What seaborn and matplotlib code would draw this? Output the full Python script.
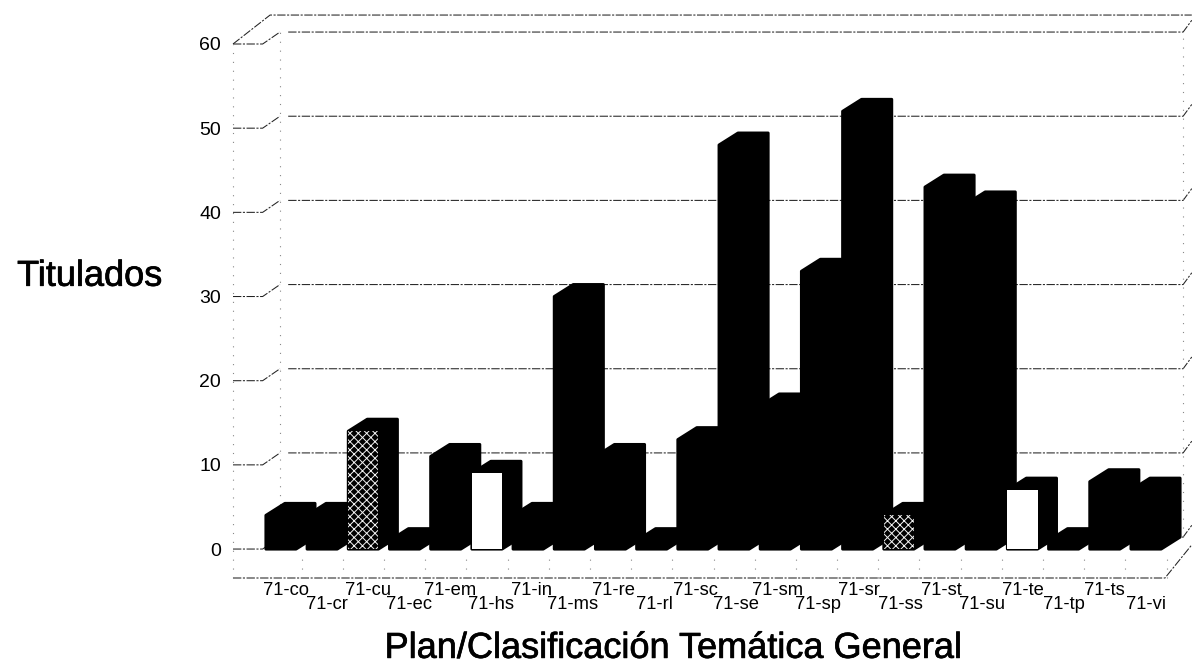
import numpy as np
import matplotlib
matplotlib.use("Agg")
import matplotlib.pyplot as plt
import matplotlib.patheffects as pe
from matplotlib.patches import Polygon
import seaborn as sns

# Datos
planes = ["71-co", "71-cr", "71-cu", "71-ec", "71-em", "71-hs", "71-in", "71-ms",
          "71-re", "71-rl", "71-sc", "71-se", "71-sm", "71-sp", "71-sr", "71-ss",
          "71-st", "71-su", "71-te", "71-tp", "71-ts", "71-vi"]
titulados = [4, 4, 14, 1, 11, 9, 4, 30, 11, 1, 13, 48, 17, 33, 52, 4, 43, 41, 7, 1, 8, 7]
y_ticks = [0, 10, 20, 30, 40, 50, 60]
cara_blanca = ["71-hs", "71-te"]
cara_textura = ["71-cu", "71-ss"]

sns.set_theme(style="white")
plt.rcParams["font.family"] = ["Liberation Sans", "DejaVu Sans"]
plt.rcParams["hatch.linewidth"] = 0.7

fig = plt.figure(figsize=(11.92, 6.64), dpi=100)
ax = fig.add_axes([233 / 1192, (664 - 578) / 664, (1165 - 233) / 1192, (578 - 44) / 664])

colores = {p: ("white" if p in cara_blanca else "black") for p in planes}
sns.barplot(x=planes, y=titulados, hue=planes, palette=colores, legend=False,
            width=0.73, saturation=1, ax=ax, linewidth=0, zorder=4)

x_izq, x_der = -1.165, 21.46
ax.set_xlim(x_izq, x_der)
ax.set_ylim(-3.44, 60)

# profundidad del efecto 3D, en unidades de datos
prof_x, prof_y = 0.46, 1.42
for barra, plan in zip(ax.patches, planes):
    x0, x1, h = barra.get_x(), barra.get_x() + barra.get_width(), barra.get_height()
    cuerpo = [(x0, h), (x0 + prof_x, h + prof_y), (x1 + prof_x, h + prof_y),
              (x1 + prof_x, prof_y), (x1, 0), (x0, 0)]
    ax.add_patch(Polygon(cuerpo, closed=True, fc="black", ec="black", lw=2.2,
                         joinstyle="round", zorder=3, clip_on=False))
    if plan in cara_textura:
        barra.set_facecolor("black")
        barra.set_edgecolor("#f4f4f4")
        barra.set_hatch("xxxx")

# rejilla y paredes
linea = dict(color="#222222", lw=0.75, ls=(0, (8, 1.5, 2, 1.5)), clip_on=False, zorder=1)
puntos = dict(color="#888888", lw=0.8, ls=(0, (1, 7)), clip_on=False, zorder=1)
pared_x = 1.14
lado_x = 0.44
for v in y_ticks:
    ax.plot([x_izq, x_izq + 0.72, x_izq + pared_x], [v, v, v + prof_y], **linea)
    ax.plot([x_izq + pared_x + 0.2, x_der + lado_x, x_der + 0.65],
            [v + prof_y, v + prof_y, v + prof_y + 1.4], **linea)
ax.plot([x_izq, x_izq + 0.9, x_der + 0.65], [60, 63.44, 63.44], **linea)
ax.plot([x_izq, x_der, x_der + 0.65], [-3.44, -3.44, 0.5], **linea)
ax.plot([x_izq, x_izq], [-3.44, 60], **puntos)
ax.plot([x_izq + pared_x, x_izq + pared_x], [0, 60 + prof_y], **puntos)
ax.plot([x_der + lado_x, x_der + lado_x], [prof_y, 60 + prof_y], **puntos)
for i in range(len(planes)):
    ax.plot([i + 0.5, i + 0.5], [-3.44, -0.3], **puntos)

# etiquetas en dos filas
ax.set_xticks(np.arange(len(planes)) * 0.994 + 0.12)
ax.set_xticklabels(planes, fontsize=13.2, color="black")
ax.tick_params(axis="x", length=0)
for i, tick in enumerate(ax.xaxis.get_major_ticks()):
    tick.set_pad(3 if i % 2 == 0 else 13)
ax.set_yticks(y_ticks)
ax.set_yticklabels([str(v) for v in y_ticks], fontsize=14, color="black")
ax.tick_params(axis="y", length=0, pad=8.5)
sns.despine(ax=ax, left=True, bottom=True)

grueso = [pe.withStroke(linewidth=0.5, foreground="black")]
ax.set_xlabel("Plan/Clasificación Temática General", fontsize=26, color="black",
              path_effects=grueso)
ax.xaxis.set_label_coords(0.472, -0.099)
ax.set_ylabel("Titulados", fontsize=26, rotation=0, color="black", ha="center", va="center",
              path_effects=grueso)
ax.yaxis.set_label_coords(-0.154, 0.565)

fig.savefig("out.png", dpi=100)
